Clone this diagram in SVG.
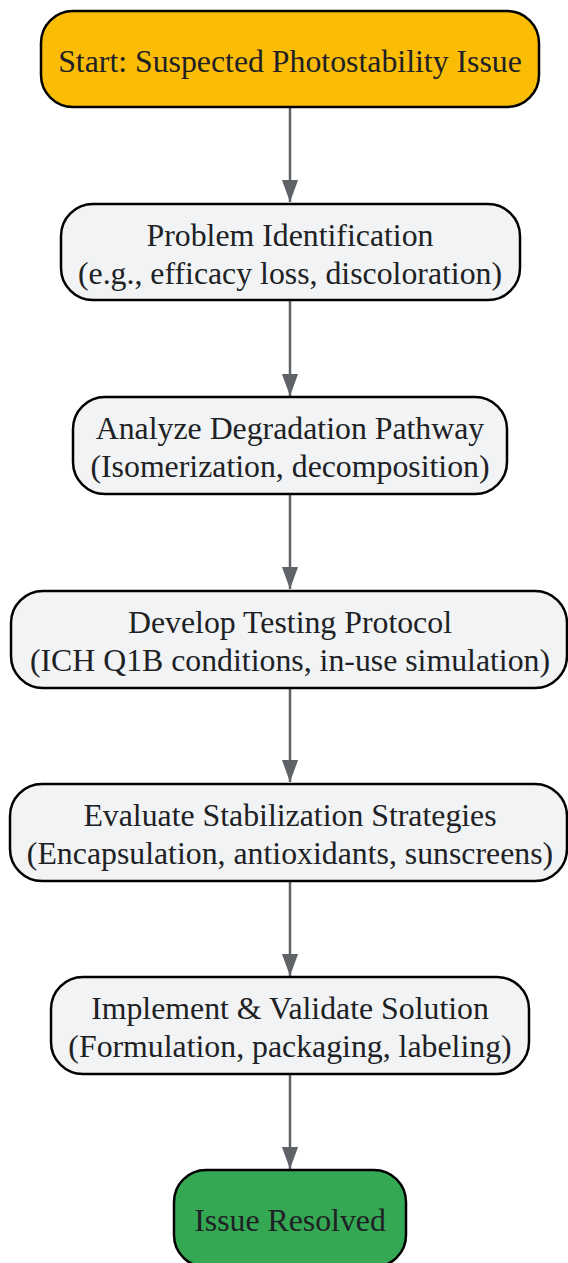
<svg xmlns="http://www.w3.org/2000/svg" width="568" height="1263" viewBox="0 0 568 1263">
<style>
.n{stroke:#000;stroke-width:2.5}
.g{fill:#f1f3f4}
.t{font-family:"Liberation Serif",serif;font-size:31.8px;fill:#202124;text-anchor:middle}
.e{stroke:#5f6368;stroke-width:2.5;fill:none}
</style>
<defs>
<marker id="a" markerUnits="userSpaceOnUse" markerWidth="22" markerHeight="30" refX="30" refY="11" orient="auto" viewBox="0 0 30 22">
<path d="M0,0 L30,11 L0,22 Z" fill="#5f6368"/>
</marker>
</defs>
<g id="connectors">
<line class="e" x1="290" y1="108" x2="290" y2="202" marker-end="url(#a)"/>
<line class="e" x1="290" y1="301" x2="290" y2="396" marker-end="url(#a)"/>
<line class="e" x1="290" y1="495" x2="290" y2="589" marker-end="url(#a)"/>
<line class="e" x1="290" y1="689" x2="290" y2="782" marker-end="url(#a)"/>
<line class="e" x1="290" y1="882" x2="290" y2="976" marker-end="url(#a)"/>
<line class="e" x1="290" y1="1075" x2="290" y2="1169" marker-end="url(#a)"/>
</g>
<g id="start">
<rect class="n" x="41" y="11" width="498" height="96" rx="32" fill="#fbbc05"/>
<text class="t" x="290" y="72">Start: Suspected Photostability Issue</text>
</g>
<g id="identify">
<rect class="n g" x="61" y="204" width="459" height="96" rx="32"/>
<text class="t" x="290" y="246">Problem Identification</text>
<text class="t" x="290" y="284">(e.g., efficacy loss, discoloration)</text>
</g>
<g id="analyze">
<rect class="n g" x="73" y="397" width="434" height="97" rx="32"/>
<text class="t" x="290" y="439">Analyze Degradation Pathway</text>
<text class="t" x="290" y="477">(Isomerization, decomposition)</text>
</g>
<g id="protocol">
<rect class="n g" x="11" y="591" width="556" height="97" rx="32"/>
<text class="t" x="290" y="633">Develop Testing Protocol</text>
<text class="t" x="290" y="671">(ICH Q1B conditions, in-use simulation)</text>
</g>
<g id="strategies">
<rect class="n g" x="10" y="784" width="557" height="97" rx="32"/>
<text class="t" x="290" y="826">Evaluate Stabilization Strategies</text>
<text class="t" x="290" y="864">(Encapsulation, antioxidants, sunscreens)</text>
</g>
<g id="implement">
<rect class="n g" x="51" y="977" width="478" height="97" rx="32"/>
<text class="t" x="290" y="1019">Implement &amp; Validate Solution</text>
<text class="t" x="290" y="1057">(Formulation, packaging, labeling)</text>
</g>
<g id="resolved">
<rect class="n" x="174" y="1170" width="232" height="97" rx="32" fill="#34a853"/>
<text class="t" x="290" y="1231">Issue Resolved</text>
</g>
</svg>
